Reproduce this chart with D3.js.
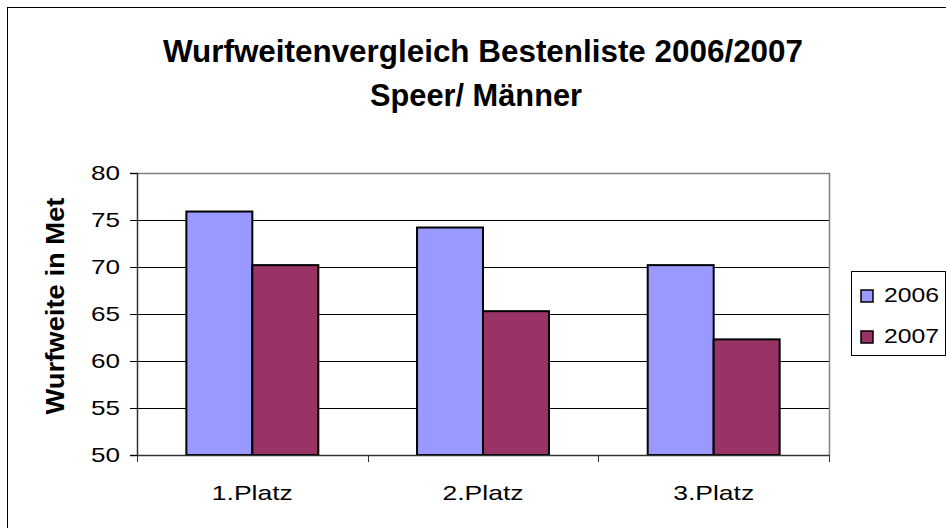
<!DOCTYPE html>
<html>
<head>
<meta charset="utf-8">
<script src="https://cdn.jsdelivr.net/npm/d3@7"></script>
<style>
  body { margin: 0; background: #fff; }
  text { font-family: "Liberation Sans", Arial, sans-serif; }
</style>
</head>
<body>
<script>
// chart data
var categories = ["1.Platz", "2.Platz", "3.Platz"];
var seriesNames = ["2006", "2007"];
var values2006 = [75.9, 74.2, 70.2];
var values2007 = [70.2, 65.3, 62.3];
var yTicks = [50, 55, 60, 65, 70, 75, 80];
var colors = ["#9999ff", "#993366"];

var width = 946, height = 528;
var plot = { left: 137, right: 829, top: 173, bottom: 455 };

var svg = d3.select("body").append("svg")
    .attr("width", width)
    .attr("height", height);

// outer chart border (right/bottom edges fall outside the picture)
svg.append("rect")
    .attr("x", 7.5).attr("y", 7.5)
    .attr("width", 960).attr("height", 540)
    .attr("fill", "#fff")
    .attr("stroke", "#000")
    .attr("stroke-width", 1);

var x0 = d3.scaleBand()
    .domain(categories)
    .range([plot.left, plot.right])
    .paddingInner(0.428)
    .paddingOuter(0.214);

var x1 = d3.scaleBand()
    .domain(seriesNames)
    .range([0, x0.bandwidth()]);

var y = d3.scaleLinear()
    .domain([50, 80])
    .range([plot.bottom, plot.top]);

// gridlines
svg.append("g").selectAll("line")
    .data(yTicks.filter(function(d) { return d > 50 && d < 80; }))
    .enter().append("line")
    .attr("x1", plot.left).attr("x2", plot.right)
    .attr("y1", function(d) { return Math.round(y(d)) + 0.5; })
    .attr("y2", function(d) { return Math.round(y(d)) + 0.5; })
    .attr("stroke", "#000");

// plot area border (top / right grey)
svg.append("path")
    .attr("d", "M" + plot.left + "," + (plot.top + 0.5) + "H" + (plot.right + 0.5) + "V" + plot.bottom)
    .attr("fill", "none")
    .attr("stroke", "#808080")
    .attr("stroke-width", 1.5);

// bars
var rows = categories.map(function(c, i) {
  return { cat: c, vals: [values2006[i], values2007[i]] };
});

var groups = svg.append("g").selectAll("g")
    .data(rows)
    .enter().append("g")
    .attr("transform", function(d) { return "translate(" + x0(d.cat) + ",0)"; });

groups.selectAll("rect")
    .data(function(d) { return d.vals.map(function(v, j) { return { s: seriesNames[j], v: v, j: j }; }); })
    .enter().append("rect")
    .attr("x", function(d) { return x1(d.s); })
    .attr("y", function(d) { return y(d.v); })
    .attr("width", x1.bandwidth())
    .attr("height", function(d) { return plot.bottom - y(d.v); })
    .attr("fill", function(d) { return colors[d.j]; })
    .attr("stroke", "#000")
    .attr("stroke-width", 2);

// y axis
var yAxis = svg.append("g")
    .attr("transform", "translate(" + plot.left + ",0)")
    .call(d3.axisLeft(y).tickValues(yTicks).tickSize(7).tickPadding(10));
yAxis.select(".domain").attr("stroke", "#333").attr("stroke-width", 1.5);
yAxis.selectAll("text")
    .attr("font-size", 21)
    .attr("fill", "#000")
    .attr("textLength", 29)
    .attr("lengthAdjust", "spacingAndGlyphs")
    .style("font-family", "'Liberation Sans', Arial, sans-serif");

// x axis
var xAxis = svg.append("g")
    .attr("transform", "translate(0," + plot.bottom + ")")
    .call(d3.axisBottom(x0).tickSize(0).tickPadding(30));
xAxis.select(".domain").attr("stroke", "#333").attr("stroke-width", 1.5);
xAxis.selectAll("text")
    .attr("font-size", 21)
    .attr("fill", "#000")
    .attr("textLength", 81)
    .attr("lengthAdjust", "spacingAndGlyphs")
    .style("font-family", "'Liberation Sans', Arial, sans-serif");

// x tick marks at category boundaries
var bounds = d3.range(categories.length + 1).map(function(i) { return plot.left + i * x0.step(); });
svg.append("g").selectAll("line")
    .data(bounds)
    .enter().append("line")
    .attr("x1", function(d) { return Math.round(d) + 0.5; })
    .attr("x2", function(d) { return Math.round(d) + 0.5; })
    .attr("y1", plot.bottom)
    .attr("y2", plot.bottom + 7)
    .attr("stroke", "#333");

// titles
svg.append("text")
    .attr("x", 483).attr("y", 62)
    .attr("text-anchor", "middle")
    .attr("font-size", 32)
    .attr("font-weight", "bold")
    .attr("textLength", 640)
    .attr("lengthAdjust", "spacingAndGlyphs")
    .text("Wurfweitenvergleich Bestenliste 2006/2007");

svg.append("text")
    .attr("x", 476).attr("y", 106)
    .attr("text-anchor", "middle")
    .attr("font-size", 32)
    .attr("font-weight", "bold")
    .attr("textLength", 212)
    .attr("lengthAdjust", "spacingAndGlyphs")
    .text("Speer/ Männer");

svg.append("text")
    .attr("transform", "translate(64,306) rotate(-90)")
    .attr("text-anchor", "middle")
    .attr("font-size", 26)
    .attr("font-weight", "bold")
    .attr("textLength", 217)
    .attr("lengthAdjust", "spacingAndGlyphs")
    .text("Wurfweite in Met");

// legend
var legend = svg.append("g").attr("transform", "translate(851,271)");
legend.append("rect")
    .attr("x", 0.5).attr("y", 0.5)
    .attr("width", 94).attr("height", 84)
    .attr("fill", "#fff")
    .attr("stroke", "#000");

var items = legend.selectAll("g.item")
    .data(seriesNames)
    .enter().append("g")
    .attr("class", "item")
    .attr("transform", function(d, i) { return "translate(10," + (25 + i * 41) + ")"; });

items.append("rect")
    .attr("x", 0).attr("y", -6)
    .attr("width", 12).attr("height", 12)
    .attr("fill", function(d, i) { return colors[i]; })
    .attr("stroke", "#000")
    .attr("stroke-width", 1.5);

items.append("text")
    .attr("x", 23).attr("y", 6)
    .attr("font-size", 21)
    .attr("textLength", 55)
    .attr("lengthAdjust", "spacingAndGlyphs")
    .text(function(d) { return d; });
</script>
</body>
</html>
